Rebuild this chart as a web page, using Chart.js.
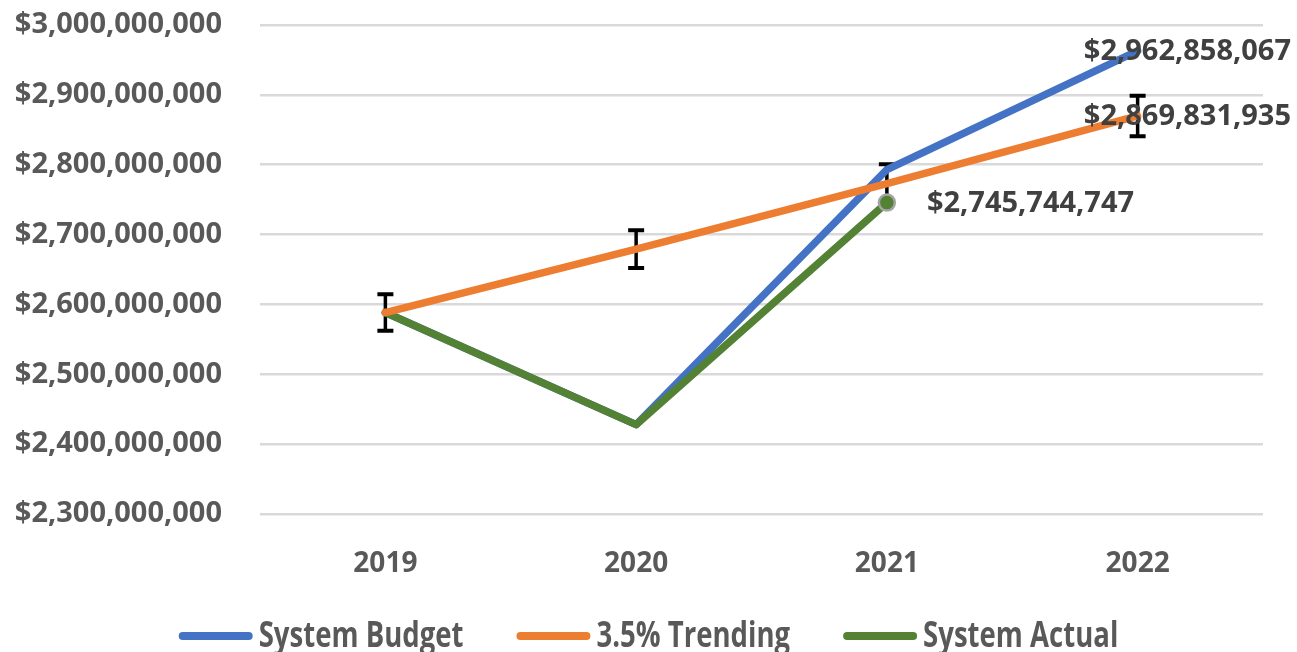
<!DOCTYPE html>
<html>
<head>
<meta charset="utf-8">
<script src="https://cdn.jsdelivr.net/npm/chart.js@4/dist/chart.umd.min.js"></script>
<style>
  html, body { margin: 0; padding: 0; background: #fff; overflow: hidden; }
  #c { display: block; }
</style>
</head>
<body>
<canvas id="c" width="1297" height="652"></canvas>
<script>
const categories = ['2019', '2020', '2021', '2022'];
const systemBudget = [2588428000, 2428000000, 2793000000, 2962858067];
const trending = [2588428000, 2679023000, 2772789000, 2869831935];
const systemActual = [2588428000, 2428000000, 2745744747, null];
const trendingError = [26000000, 27000000, 28000000, 29000000];
const yMin = 2300000000;
const yMax = 3000000000;
const yStep = 100000000;
const seriesNames = ['System Budget', '3.5% Trending', 'System Actual'];

const fmt = v => '$' + Math.round(v).toLocaleString('en-US');

const errorBarPlugin = {
  id: 'errorBars',
  beforeDatasetsDraw(chart) {
    const ctx = chart.ctx;
    const meta = chart.getDatasetMeta(1);
    const ys = chart.scales.y;
    ctx.save();
    ctx.strokeStyle = '#000';
    ctx.lineCap = 'butt';
    meta.data.forEach((pt, i) => {
      const v = trending[i];
      const e = trendingError[i];
      if (v == null || e == null) return;
      const x = pt.x;
      const yt = ys.getPixelForValue(v + e);
      const yb = ys.getPixelForValue(v - e);
      ctx.lineWidth = 3.5;
      ctx.beginPath();
      ctx.moveTo(x, yt); ctx.lineTo(x, yb);
      ctx.stroke();
      ctx.lineWidth = 4;
      ctx.beginPath();
      ctx.moveTo(x - 8, yt); ctx.lineTo(x + 8, yt);
      ctx.moveTo(x - 8, yb); ctx.lineTo(x + 8, yb);
      ctx.stroke();
    });
    ctx.restore();
  }
};

const dataLabelPlugin = {
  id: 'dataLabels',
  afterDatasetsDraw(chart) {
    const ctx = chart.ctx;
    const items = [
      { ds: 0, idx: 3 },
      { ds: 1, idx: 3 },
      { ds: 2, idx: 2 }
    ];
    ctx.save();
    ctx.font = 'bold 29px "Open Sans"';
    ctx.fillStyle = '#404040';
    ctx.textBaseline = 'middle';
    ctx.textAlign = 'left';
    items.forEach(it => {
      const pt = chart.getDatasetMeta(it.ds).data[it.idx];
      const v = chart.data.datasets[it.ds].data[it.idx];
      const txt = fmt(v);
      const w = ctx.measureText(txt).width;
      let x = pt.x + 40;
      if (x + w > chart.width - 6) x = chart.width - 6 - w;
      ctx.fillText(txt, x, pt.y + 1);
    });
    ctx.restore();
  }
};

const legendPlugin = {
  id: 'bottomLegend',
  afterDraw(chart) {
    const ctx = chart.ctx;
    const sx = 0.765;
    const lineLen = 74, gapText = 6, gapItem = 53;
    const cy = 636;
    ctx.save();
    ctx.font = 'bold 36px "Open Sans"';
    const widths = chart.data.datasets.map(ds => ctx.measureText(ds.label).width * sx);
    const total = widths.reduce((a, w) => a + lineLen + gapText + w, 0) + gapItem * (widths.length - 1);
    let x = (chart.width - total) / 2;
    chart.data.datasets.forEach((ds, i) => {
      ctx.strokeStyle = ds.borderColor;
      ctx.lineWidth = 8;
      ctx.lineCap = 'round';
      ctx.beginPath();
      ctx.moveTo(x + 4, cy);
      ctx.lineTo(x + lineLen - 4, cy);
      ctx.stroke();
      const tx = x + lineLen + gapText;
      ctx.save();
      ctx.translate(tx, cy);
      ctx.scale(sx, 1);
      ctx.fillStyle = '#595959';
      ctx.textBaseline = 'middle';
      ctx.textAlign = 'left';
      ctx.fillText(ds.label, 0, 1);
      ctx.restore();
      x = tx + widths[i] + gapItem;
    });
    ctx.restore();
  }
};

const colors = ['#4472C4', '#ED7D31', '#548235'];

new Chart(document.getElementById('c'), {
  type: 'line',
  data: {
    labels: categories,
    datasets: [
      {
        label: seriesNames[0], data: systemBudget,
        borderColor: colors[0], backgroundColor: colors[0],
        borderWidth: 7.5, pointRadius: 0, order: 2, tension: 0,
        borderCapStyle: 'round', borderJoinStyle: 'round'
      },
      {
        label: seriesNames[1], data: trending,
        borderColor: colors[1], backgroundColor: colors[1],
        borderWidth: 7.5, pointRadius: 0, order: 0, tension: 0,
        borderCapStyle: 'round', borderJoinStyle: 'round'
      },
      {
        label: seriesNames[2], data: systemActual,
        borderColor: colors[2], backgroundColor: colors[2],
        borderWidth: 7.5, order: 1, tension: 0,
        pointRadius: [0, 0, 8, 0],
        pointBackgroundColor: colors[2],
        pointBorderColor: '#A5A5A5',
        pointBorderWidth: 2.5,
        borderCapStyle: 'round', borderJoinStyle: 'round'
      }
    ]
  },
  options: {
    responsive: false,
    animation: false,
    events: [],
    layout: { padding: { top: 25, right: 34, bottom: 78, left: 0 } },
    scales: {
      x: {
        offset: true,
        grid: { display: false },
        border: { display: false },
        ticks: {
          color: '#595959',
          font: { family: '"Open Sans"', weight: 'bold', size: 28 },
          padding: 25
        },
        afterFit(s) { s.height = 60; s.paddingLeft = 0; s.paddingRight = 0; }
      },
      y: {
        min: yMin, max: yMax,
        grid: { color: '#D9D9D9', lineWidth: 2.5, drawTicks: false },
        border: { display: false },
        ticks: {
          stepSize: yStep,
          color: '#595959',
          font: { family: '"Open Sans"', weight: 'bold', size: 29 },
          padding: 38,
          callback: v => fmt(v)
        },
        afterFit(s) { s.width = 260; s.paddingTop = 0; s.paddingBottom = 0; }
      }
    },
    plugins: {
      tooltip: { enabled: false },
      legend: { display: false }
    }
  },
  plugins: [errorBarPlugin, dataLabelPlugin, legendPlugin]
});
</script>
</body>
</html>
